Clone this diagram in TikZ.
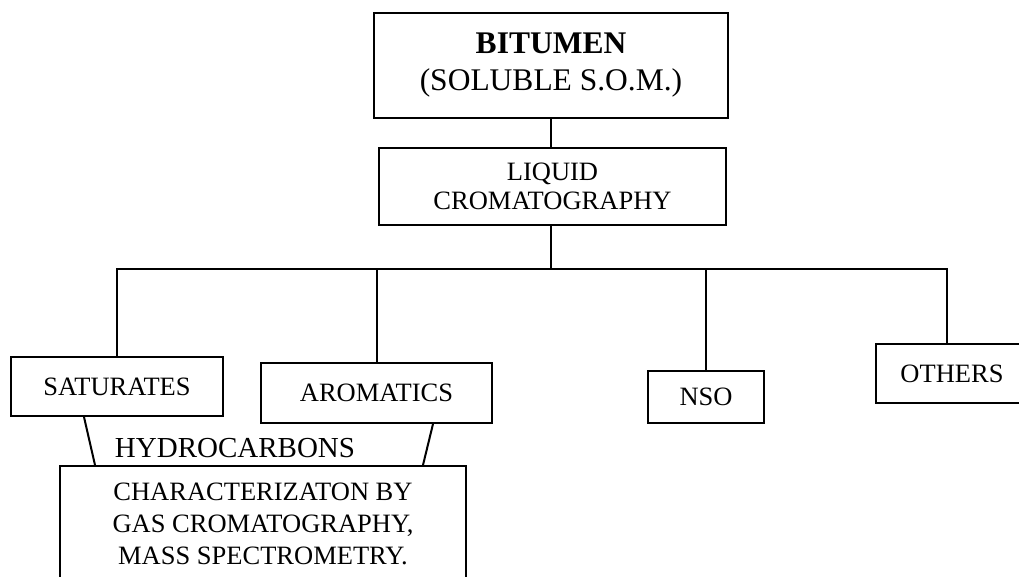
\documentclass[tikz,border=0pt]{standalone}
\usepackage{fontspec}
\setmainfont{Liberation Serif}
\begin{document}
\begin{tikzpicture}[x=1pt,y=-1pt,line width=2pt,
    box/.style={draw,inner sep=0pt,align=center,font=\fontsize{26.5}{29}\selectfont}]
        \useasboundingbox (0,0) rectangle (1019,576);
        \clip (0,0) rectangle (1019,576);
        \node[box,minimum width=354,minimum height=105,font=\fontsize{31.5}{37}\selectfont] (bitumen) at (551,65.5) {\textbf{BITUMEN}\\(SOLUBLE S.O.M.)};
        \node[box,minimum width=347,minimum height=77]  (liquid)    at (552.5,186.5) {LIQUID\\CROMATOGRAPHY};
        \node[box,minimum width=212,minimum height=59]  (saturates) at (117,386.5)   {SATURATES};
        \node[box,minimum width=231,minimum height=60]  (aromatics) at (376.5,393)   {AROMATICS};
        \node[box,minimum width=116,minimum height=52]  (nso)       at (706,397)     {NSO};
        \node[box,minimum width=152,minimum height=59]  (others)    at (952,373.5)   {OTHERS};
        \node[box,minimum width=406,minimum height=116,font=\fontsize{26.5}{32}\selectfont] (charact) at (263,524) {CHARACTERIZATON BY\\GAS CROMATOGRAPHY,\\MASS SPECTROMETRY.};
        \node[font=\fontsize{29}{32}\selectfont,inner sep=0pt] (hydro) at (235,448.5) {HYDROCARBONS};
        \coordinate (bus) at (551,269);
        \draw (bitumen.south) -- (liquid.north -| bitumen.south);
        \draw (liquid.south -| bus) -- (bus);
        \draw (saturates.north) |- (bus);
        \draw (aromatics.north) |- (bus);
        \draw (nso.north) |- (bus);
        \draw ([xshift=-5pt]others.north) |- (bus);
        \draw ([xshift=-33pt]saturates.south) -- ([xshift=-168pt]charact.north);
        \draw ([xshift=56.5pt]aromatics.south) -- ([xshift=160pt]charact.north);
    \end{tikzpicture}
\end{document}
